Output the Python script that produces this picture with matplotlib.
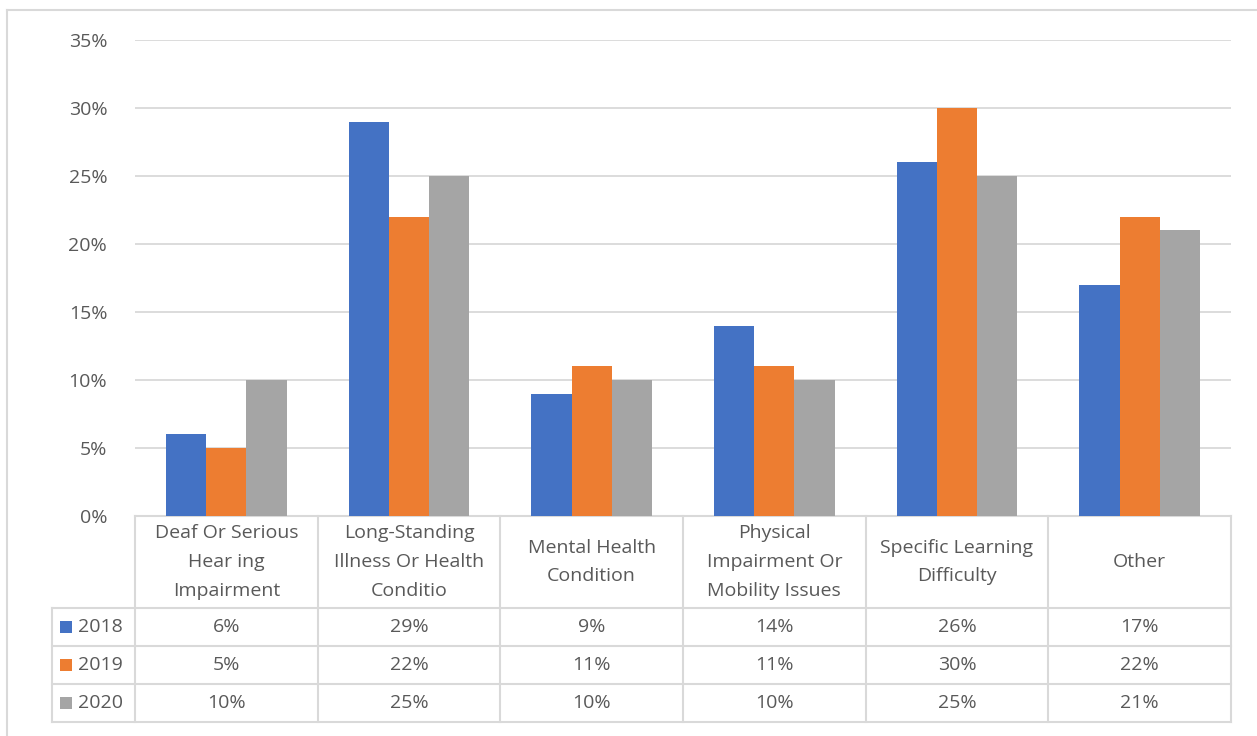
import numpy as np
import matplotlib
matplotlib.use('Agg')
from matplotlib import pyplot as plt
from matplotlib import transforms as mtransforms
from matplotlib.patches import Rectangle
from matplotlib.ticker import FuncFormatter

categories = ['Deaf Or Serious\nHear ing\nImpairment',
              'Long-Standing\nIllness Or Health\nConditio',
              'Mental Health\nCondition',
              'Physical\nImpairment Or\nMobility Issues',
              'Specific Learning\nDifficulty',
              'Other']
years = ['2018', '2019', '2020']
vals_2018 = [6, 29, 9, 14, 26, 17]
vals_2019 = [5, 22, 11, 11, 30, 22]
vals_2020 = [10, 25, 10, 10, 25, 21]
colors = ['#4472C4', '#ED7D31', '#A5A5A5']

W, H = 1257, 736
plt.rcParams['font.family'] = ['Open Sans', 'DejaVu Sans']
txtcol = '#595959'
gridcol = '#D9D9D9'
fs = 14

fig = plt.figure(figsize=(W / 100, H / 100), dpi=100)

def fx(p):
    return p / W

def fy(p):
    return 1 - p / H

ax = fig.add_axes([fx(135), fy(516), fx(1231) - fx(135), fy(40) - fy(516)])

series = [vals_2018, vals_2019, vals_2020]
x = np.arange(len(categories))
bw = 0.22
for k, vals in enumerate(series):
    ax.bar(x + (k - 1) * bw, np.array(vals) / 100, width=bw, color=colors[k], zorder=3)

ax.set_xlim(-0.5, len(categories) - 0.5)
ax.set_ylim(0, 0.35)
ax.set_yticks(np.arange(0, 0.351, 0.05))
ax.yaxis.set_major_formatter(FuncFormatter(lambda v, p: f'{v * 100:.0f}%'))
ax.tick_params(axis='y', length=0, pad=20, labelsize=fs, labelcolor=txtcol)
ax.set_xticks([])
ax.grid(axis='y', color=gridcol, linewidth=1.3, zorder=0)
for s in ax.spines.values():
    s.set_visible(False)

# data table under the plot
tr = mtransforms.blended_transform_factory(ax.transData, fig.transFigure)
lw = 1.5
ax.plot([-0.5, len(categories) - 0.5], [fy(516), fy(516)], transform=tr, color=gridcol, lw=lw, clip_on=False)
for yy in [608, 646, 684, 722]:
    fig.add_artist(plt.Line2D([fx(52), fx(1231)], [fy(yy), fy(yy)], color=gridcol, lw=lw))
for i in range(len(categories) + 1):
    ax.plot([i - 0.5, i - 0.5], [fy(516), fy(722)], transform=tr, color=gridcol, lw=lw, clip_on=False)
fig.add_artist(plt.Line2D([fx(52), fx(52)], [fy(608), fy(722)], color=gridcol, lw=lw))

for i, cat in enumerate(categories):
    ax.text(i, fy(562), cat, transform=tr, ha='center', va='center', fontsize=fs,
            color=txtcol, linespacing=1.75)

row_y = [627, 665, 703]
for k, vals in enumerate(series):
    for i, v in enumerate(vals):
        ax.text(i, fy(row_y[k]), f'{v}%', transform=tr, ha='center', va='center',
                fontsize=fs, color=txtcol)
    fig.add_artist(Rectangle((fx(60), fy(row_y[k] + 6)), fx(12), fy(row_y[k] - 6) - fy(row_y[k] + 6),
                             facecolor=colors[k], edgecolor='none'))
    fig.text(fx(78), fy(row_y[k]), years[k], ha='left', va='center', fontsize=fs, color=txtcol)

# chart border
fig.add_artist(plt.Line2D([fx(7), 1], [fy(10), fy(10)], color=gridcol, lw=1.5))
fig.add_artist(plt.Line2D([fx(7), fx(7)], [fy(10), 0], color=gridcol, lw=1.5))

fig.savefig('out.png', dpi=100)
